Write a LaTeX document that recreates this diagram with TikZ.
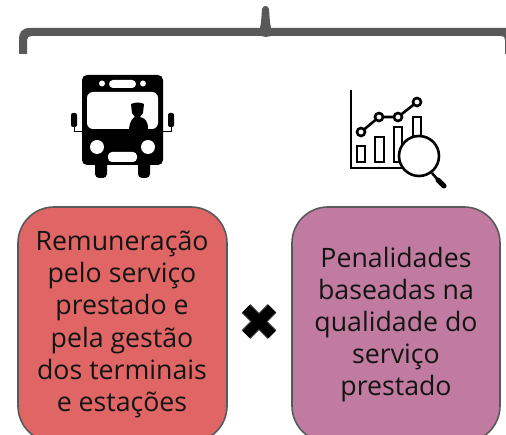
\documentclass[tikz,border=0pt]{standalone}
\usepackage{fontspec}
\setmainfont{Open Sans}
\usetikzlibrary{positioning}
\definecolor{edge}{RGB}{89,89,89}
\definecolor{payred}{RGB}{224,102,102}
\definecolor{penpink}{RGB}{194,123,160}
\tikzset{
    card/.style={draw=edge, line width=1.6pt, rounded corners=36pt},
    cardtext/.style={align=center, font=\fontsize{26.7}{32.2}\selectfont, text=black!92},
    thin line/.style={line width=2.6pt, draw=black}
}
\begin{document}
\begin{tikzpicture}[x=1pt, y=-1pt]
    \useasboundingbox (0,0) rectangle (506,435);
    \clip (0,0) rectangle (506,435);

    % Brace
    \fill[edge] (19,54) -- (19,40) .. controls (19,32) and (22,28) .. (30,28)
        -- (260,28) .. controls (261.5,22) and (261.5,14) .. (262,9)
        .. controls (263,5) and (268,5) .. (269,9)
        .. controls (269.5,14) and (269.5,22) .. (271,28)
        -- (506,28) .. controls (510,28) and (513,32) .. (513,40) -- (513,54)
        -- (505,54) -- (505,40) .. controls (505,37) and (504,36) .. (501,36)
        -- (271,36) -- (266,37) -- (261,36) -- (32,36)
        .. controls (29,36) and (27,37) .. (27,40) -- (27,54) -- cycle;

    % Bus
    \fill[black, rounded corners=5pt] (82,75) rectangle (163,165);
    \fill[black, rounded corners=4pt] (95,160) rectangle (107,178);
    \fill[black, rounded corners=4pt] (138,160) rectangle (150,178);
    \fill[white, rounded corners=6pt] (87,92) rectangle (158,129);
    \fill[white, rounded corners=4pt] (109,80) rectangle (136,88);
    \fill[white, rounded corners=4pt] (108,152) rectangle (137,162);
    \foreach \x in {102,143} {
        \fill[white] (\x,83.5) circle (3);
    }
    \foreach \x in {97,148} {
        \fill[white] (\x,147) circle (7);
    }
    % Mirrors
    \fill[black, rounded corners=2pt] (71,113) rectangle (77,127);
    \fill[black, rounded corners=2pt] (168,113) rectangle (174,127);
    \draw[black, line width=0.8pt] (74,127) -- (74,131) -- (82,131);
    \draw[black, line width=0.8pt] (171,127) -- (171,131) -- (163,131);
    % Driver
    \fill[black] (129,129) .. controls (130,120) and (133,118) .. (135,117)
        -- (132,113) -- (131,104) .. controls (136,102) and (140,102) .. (144,104)
        -- (143,113) -- (140,117) .. controls (145,118) and (148,121) .. (148,129) -- cycle;

    % Chart
    \draw[thin line] (351,90) -- (351,168) -- (402,168);
    \draw[thin line] (357,146) rectangle (365,162);
    \draw[thin line] (375,137) rectangle (384,162);
    \draw[thin line] (394,127) rectangle (402,162);
    \draw[thin line] (413,117) rectangle (421,137);
    \draw[thin line] (361,132) -- (379,117) -- (398,117) -- (417,102);
    \foreach \x/\y in {361/132, 379/117, 398/117, 417/102} {
        \draw[thin line, fill=white] (\x,\y) circle (4);
    }
    % Lens
    \draw[thin line, fill=white] (419,156) circle (20);
    \draw[thin line] (432,173) -- (438,180);
    \draw[black, line width=5pt, line cap=round] (438,180) -- (444,186);

    % Cards
    \draw[card, fill=payred] (18,207) rectangle (227,442);
    \draw[card, fill=penpink] (292,207) rectangle (500,442);
    \node[cardtext] (pay) at (122,324.5) {Remuneração\\pelo serviço\\prestado e\\pela gestão\\dos terminais\\e estações};
    \node[cardtext] (pen) at (396,324.5) {Penalidades\\baseadas na\\qualidade do\\serviço\\prestado};

    % Cross
    \draw[edge, line width=12.5pt] (246,308.5) -- (272,334.5);
    \draw[edge, line width=12.5pt] (272,308.5) -- (246,334.5);
    \draw[black, line width=10.5pt] (246,308.5) -- (272,334.5);
    \draw[black, line width=10.5pt] (272,308.5) -- (246,334.5);
\end{tikzpicture}
\end{document}
